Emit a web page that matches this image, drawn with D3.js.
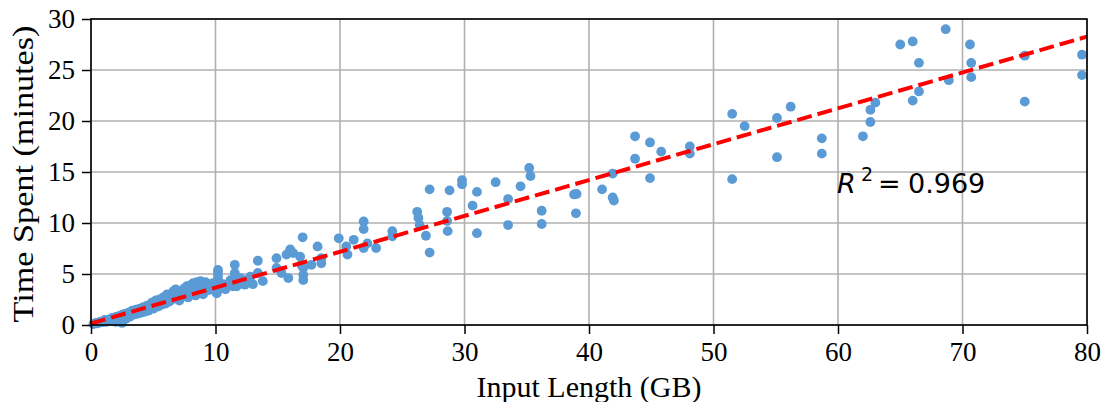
<!DOCTYPE html>
<html><head><meta charset="utf-8">
<script src="https://cdn.jsdelivr.net/npm/d3@7"></script>
<style>body{margin:0;background:#fff}svg{display:block}</style>
</head><body>
<svg id="c" width="1102" height="402"></svg>
<script>
// Data: input length (GB) and time spent (minutes)
const inputGB = [
 0.2,0.4,0.5,0.7,0.8,1.0,1.1,1.2,1.3,1.5,1.6,1.7,1.8,1.9,2.0,2.0,2.1,2.2,2.3,2.4,2.5,2.5,2.6,2.7,2.8,2.9,3.0,3.1,3.2,3.3,3.4,3.5,3.6,3.7,3.8,3.9,4.0,4.1,4.2,4.3,4.4,4.5,4.6,4.7,4.8,4.9,5.0,5.1,5.2,5.3,5.4,5.5,5.6,5.7,5.8,5.9,6.0,6.1,6.2,6.3,6.4,6.5,6.6,6.7,6.8,6.9,7.0,7.1,7.2,7.4,7.5,7.6,7.7,7.8,7.9,8.0,8.1,8.2,8.3,8.4,8.5,8.6,8.7,8.8,8.9,9.0,9.1,9.2,9.4,9.5,9.7,9.8,10.0,10.1,10.2,10.2,10.2,10.2,10.2,10.4,10.6,10.8,11.0,11.2,11.4,11.55,11.55,11.55,11.7,11.6,12.0,12.35,12.5,12.8,13.0,
 13.4,13.4,13.8,14.9,14.9,15.3,15.85,15.7,16.0,16.25,16.9,17.0,17.05,17.05,17.05,16.8,17.7,18.2,18.5,18.5,19.9,20.5,20.6,21.1,21.9,21.9,21.9,22.2,22.9,24.2,24.2,
 26.2,26.3,26.4,26.9,27.2,27.2,28.6,28.6,28.65,28.8,29.8,29.8,30.65,31.0,31.0,
 32.5,33.5,33.5,34.5,35.2,35.3,36.2,36.2,38.8,39.0,38.95,41.05,41.9,41.9,42.0,43.7,43.7,44.9,44.9,45.8,48.1,48.1,
 51.5,52.5,51.5,55.1,55.1,56.2,58.7,58.7,62.0,62.6,62.6,63.0,65.0,66.0,66.5,66.0,66.5,68.65,68.9,70.6,70.7,70.7,75.0,75.0,79.6,79.6
];
const timeMin = [
 0.1,0.2,0.15,0.3,0.25,0.35,0.5,0.3,0.45,0.55,0.4,0.7,0.5,0.6,0.3,0.8,0.65,0.5,0.9,0.7,0.2,1.0,0.8,1.1,0.6,0.95,1.2,0.8,1.05,1.4,1.0,1.25,1.5,1.1,1.35,1.6,1.2,1.45,1.75,1.3,1.6,1.9,1.4,1.7,2.0,2.2,1.6,1.9,2.4,2.1,1.8,2.5,2.2,2.0,2.7,2.4,2.1,3.0,2.6,2.3,2.9,2.5,3.3,2.8,3.5,2.6,3.1,2.4,3.3,2.8,3.6,3.0,3.8,2.7,3.4,3.9,3.1,4.1,3.5,2.9,4.2,3.7,3.3,4.3,3.9,3.0,3.6,4.2,3.4,4.0,3.7,4.1,3.3,3.1,3.8,4.4,4.75,5.1,5.4,3.6,4.0,3.5,3.9,4.4,3.8,5.9,5.1,4.3,3.8,4.7,4.6,3.95,4.4,4.75,4.0,
 6.3,5.1,4.3,6.55,5.6,5.1,4.6,6.9,7.4,7.05,5.9,8.6,4.4,4.9,5.6,6.7,5.9,7.7,6.55,6.05,8.5,7.7,6.9,8.35,10.15,9.4,7.55,8.0,7.55,9.2,8.7,
 11.1,10.5,9.8,8.75,13.3,7.1,11.1,10.2,9.2,13.2,14.2,13.8,11.7,13.05,9.0,
 14.0,12.35,9.8,13.6,15.4,14.6,11.2,9.9,12.8,12.85,10.95,13.3,14.85,12.5,12.2,18.5,16.3,17.9,14.4,17.0,17.5,16.8,
 20.7,19.5,14.3,20.3,16.45,21.4,18.3,16.8,18.5,19.9,21.1,21.8,27.5,27.8,25.7,22.0,22.9,29.0,24.0,27.5,25.7,24.3,26.4,21.9,26.5,24.5
];
const xTicks = [0,10,20,30,40,50,60,70,80];
const yTicks = [0,5,10,15,20,25,30];
const fitSlope = 0.3515;
const fitIntercept = 0.15;
const r2Label = "0.969";

const svg = d3.select("#c");
const m = {left:91, right:1087, top:19, bottom:325};
const x = d3.scaleLinear().domain([0,80]).range([m.left, m.right]);
const y = d3.scaleLinear().domain([0,30]).range([m.bottom, m.top]);
const serif = "'Liberation Serif','Times New Roman',serif";

// grid
svg.append("g").selectAll("line").data(xTicks).join("line")
  .attr("x1",d=>x(d)).attr("x2",d=>x(d)).attr("y1",m.top).attr("y2",m.bottom)
  .attr("stroke","#b0b0b0").attr("stroke-width",1.6);
svg.append("g").selectAll("line").data(yTicks).join("line")
  .attr("x1",m.left).attr("x2",m.right).attr("y1",d=>y(d)).attr("y2",d=>y(d))
  .attr("stroke","#b0b0b0").attr("stroke-width",1.6);

// points
const pts = inputGB.map((v,i)=>[v,timeMin[i]]);
svg.append("g").selectAll("circle").data(pts).join("circle")
  .attr("cx",d=>x(d[0])).attr("cy",d=>y(d[1])).attr("r",4.9)
  .attr("fill","#5b9bd5");

// fit line
svg.append("line")
  .attr("x1",x(0)).attr("y1",y(fitIntercept))
  .attr("x2",x(80)).attr("y2",y(fitIntercept+fitSlope*80))
  .attr("stroke","#ff0000").attr("stroke-width",4)
  .attr("stroke-dasharray","15,6");

// frame
svg.append("rect").attr("x",m.left).attr("y",m.top)
  .attr("width",m.right-m.left).attr("height",m.bottom-m.top)
  .attr("fill","none").attr("stroke","#000").attr("stroke-width",1.6);

// axes
const xa = svg.append("g").attr("transform",`translate(0,${m.bottom})`)
  .call(d3.axisBottom(x).tickValues(xTicks).tickSize(9).tickPadding(8));
const ya = svg.append("g").attr("transform",`translate(${m.left},0)`)
  .call(d3.axisLeft(y).tickValues(yTicks).tickSize(9).tickPadding(7));
[xa,ya].forEach(a=>{
  a.select(".domain").remove();
  a.selectAll(".tick line").attr("stroke","#000").attr("stroke-width",1.5);
  a.selectAll("text").attr("font-family",serif).attr("font-size",27).attr("fill","#000");
});
xa.selectAll("text").attr("dy","0.71em");

// labels
svg.append("text").attr("x",(m.left+m.right)/2).attr("y",397)
  .attr("text-anchor","middle").attr("font-family",serif).attr("font-size",30)
  .text("Input Length (GB)");
svg.append("text").attr("transform",`translate(33,${174}) rotate(-90) scale(1.14,1)`)
  .attr("text-anchor","middle").attr("font-family",serif).attr("font-size",30)
  .text("Time Spent (minutes)");

// R^2 annotation
const g = svg.append("g").attr("font-family","'DejaVu Sans',sans-serif").attr("fill","#000");
g.append("text").attr("x",837).attr("y",193).attr("font-size",27).attr("font-style","italic").text("R");
g.append("text").attr("x",861).attr("y",181).attr("font-size",19).text("2");
g.append("text").attr("x",878).attr("y",193).attr("font-size",27).text("=");
g.append("text").attr("x",908).attr("y",193).attr("font-size",27).text(r2Label);
</script>
</body></html>
